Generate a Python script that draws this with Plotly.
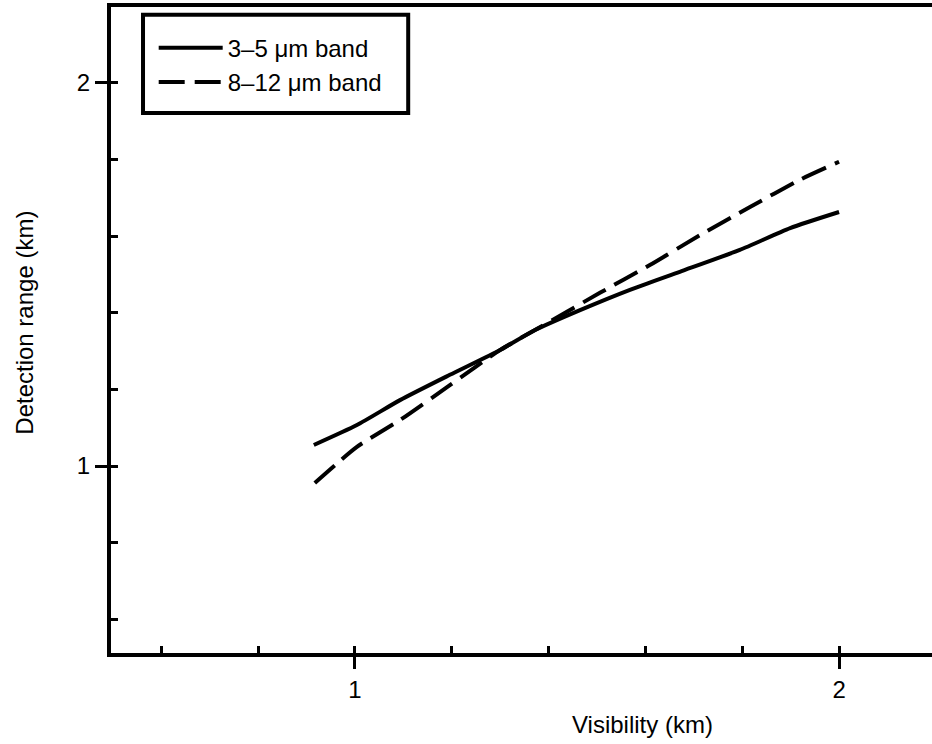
import plotly.graph_objects as go

# Data
vis_35 = [0.915, 1.004, 1.093, 1.196, 1.30, 1.372, 1.465, 1.568, 1.671, 1.795, 1.899, 2.0]
det_35 = [1.055, 1.107, 1.172, 1.238, 1.303, 1.355, 1.407, 1.460, 1.507, 1.564, 1.621, 1.663]
vis_812 = [0.917, 1.004, 1.093, 1.196, 1.30, 1.372, 1.506, 1.61, 1.713, 1.816, 1.919, 2.0]
det_812 = [0.956, 1.05, 1.12, 1.211, 1.303, 1.355, 1.452, 1.525, 1.603, 1.676, 1.747, 1.794]
names = ["3\u20135 \u03bcm band", "8\u201312 \u03bcm band"]
x_ticks = [1, 2]
y_ticks = [1, 2]

FONT = "Liberation Sans, Arial, sans-serif"
FS = 24

fig = go.Figure()
fig.add_trace(go.Scatter(x=vis_35, y=det_35, mode="lines", name=names[0],
                         line=dict(color="black", width=4, shape="spline", smoothing=0.6)))
fig.add_trace(go.Scatter(x=vis_812, y=det_812, mode="lines", name=names[1],
                         line=dict(color="black", width=4, dash="26px,10px", shape="spline", smoothing=0.6)))

axis_common = dict(
    showgrid=False, zeroline=False, showline=True, linecolor="black", linewidth=4,
    ticks="outside", ticklen=12, tickwidth=3, tickcolor="black",
    tickfont=dict(family=FONT, size=FS, color="black"),
    minor=dict(ticks="inside", ticklen=7, tickwidth=3, tickcolor="black", dtick=0.2),
)

fig.update_xaxes(range=[0.496, 2.192], tickvals=x_ticks, ticktext=[str(v) for v in x_ticks],
                 mirror=True, **axis_common)
fig.update_yaxes(range=[0.512, 2.198], tickvals=y_ticks, ticktext=[str(v) for v in y_ticks],
                 **axis_common)

fig.update_layout(
    width=932, height=744,
    margin=dict(l=111, r=0, t=7, b=91),
    plot_bgcolor="white", paper_bgcolor="white",
    font=dict(family=FONT, size=FS, color="black"),
    showlegend=True,
    legend=dict(x=0.052, y=0.971, xanchor="left", yanchor="top",
                bgcolor="rgba(0,0,0,0)", borderwidth=0,
                font=dict(family=FONT, size=FS, color="black"),
                itemwidth=64, tracegroupgap=0),
    shapes=[dict(type="rect", xref="paper", yref="paper",
                 x0=0.039, x1=0.362, y0=0.836, y1=0.988,
                 line=dict(color="black", width=4))],
    annotations=[
        dict(text="Visibility (km)", xref="paper", yref="paper", x=0.647, y=-0.111,
             xanchor="center", yanchor="middle", showarrow=False,
             font=dict(family=FONT, size=FS, color="black")),
        dict(text="Detection range (km)", xref="paper", yref="paper", x=-0.105, y=0.511,
             xanchor="center", yanchor="middle", showarrow=False, textangle=-90,
             font=dict(family=FONT, size=FS, color="black")),
    ],
)

fig.write_html("out.html")
